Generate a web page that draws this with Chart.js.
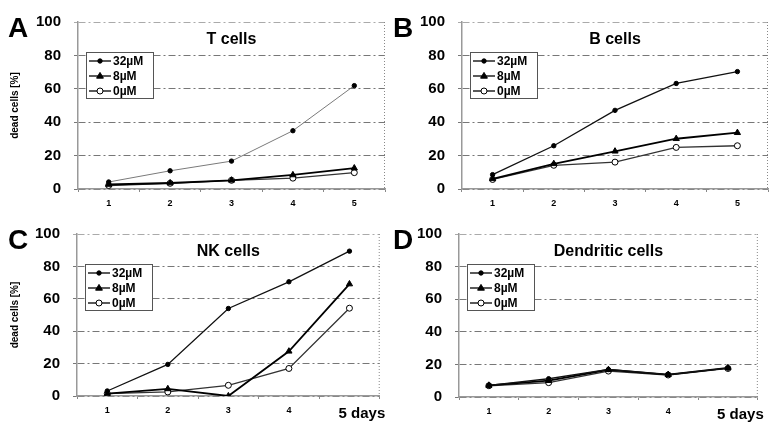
<!DOCTYPE html>
<html>
<head>
<meta charset="utf-8">
<script src="https://cdn.jsdelivr.net/npm/chart.js@4.4.0/dist/chart.umd.min.js"></script>
<style>
  html, body { margin: 0; padding: 0; background: #fff; }
  #wrap { position: relative; width: 770px; height: 424px; overflow: hidden; }
  canvas { position: absolute; }
</style>
</head>
<body>
<div id="wrap">
  <canvas id="pA" width="386" height="212" style="left:0;top:0"></canvas>
  <canvas id="pB" width="385" height="212" style="left:385px;top:0"></canvas>
  <canvas id="pC" width="392" height="212" style="left:0;top:212px"></canvas>
  <canvas id="pD" width="385" height="212" style="left:385px;top:212px"></canvas>
</div>
<script>
// values (% dead cells per day)
const days = ["1", "2", "3", "4", "5"];
const lastDayLabel = "5 days";
const doses = ["32µM", "8µM", "0µM"];
const yTicks = [0, 20, 40, 60, 80, 100];

const tCells32 = [4.2, 10.9, 16.7, 34.9, 61.9];
const tCells8 = [2.7, 3.6, 5.2, 8.4, 12.5];
const tCells0 = [2.1, 3.4, 5.2, 6.5, 9.8];

const bCells32 = [8.6, 25.9, 47.1, 63.2, 70.3];
const bCells8 = [6.1, 15.1, 22.6, 30.1, 33.7];
const bCells0 = [5.7, 14.2, 16.1, 24.9, 25.9];

const nkCells32 = [3.1, 19.5, 54, 70.5, 89.4];
const nkCells8 = [1.5, 4.4, 0, 27.6, 69.1];
const nkCells0 = [1.5, 2.5, 6.6, 17, 54.2];

const dcCells32 = [7.1, 11.2, 16.9, 13.7, 17.7];
const dcCells8 = [7.1, 10, 16.7, 13.7, 17.9];
const dcCells0 = [6.9, 8.8, 15.9, 13.5, 17.5];

const FONT = "'Liberation Sans', Arial, Helvetica, sans-serif";

const panels = [
  { id: "pA", letter: "A", title: "T cells", series: [tCells32, tCells8, tCells0],
    left: 78, top: 15, bottom: 189, right: 385, yTitle: true, withDays: false, color32: "#7a7a7a" },
  { id: "pB", letter: "B", title: "B cells", series: [bCells32, bCells8, bCells0],
    left: 77, top: 15, bottom: 189, right: 383, yTitle: false, withDays: false, color32: "#111" },
  { id: "pC", letter: "C", title: "NK cells", series: [nkCells32, nkCells8, nkCells0],
    left: 77, top: 12, bottom: 184, right: 385, yTitle: true, withDays: true, color32: "#111" },
  { id: "pD", letter: "D", title: "Dendritic cells", series: [dcCells32, dcCells8, dcCells0],
    left: 74, top: 12, bottom: 185, right: 383, yTitle: false, withDays: true, color32: "#111" },
];

const markerStyles = [
  { pointStyle: "circle", radius: 2.2, fill: "#000" },
  { pointStyle: "triangle", radius: 3.6, fill: "#000" },
  { pointStyle: "circle", radius: 3, fill: "#fff" },
];

function drawMarker(ctx, m, x, y) {
  ctx.save();
  ctx.fillStyle = m.fill;
  ctx.strokeStyle = "#000";
  ctx.lineWidth = 1;
  ctx.setLineDash([]);
  ctx.beginPath();
  if (m.pointStyle === "triangle") {
    const r = m.radius;
    ctx.moveTo(x, y - r);
    ctx.lineTo(x + r * 0.95, y + r * 0.6);
    ctx.lineTo(x - r * 0.95, y + r * 0.6);
    ctx.closePath();
  } else {
    ctx.arc(x, y, m.radius, 0, Math.PI * 2);
  }
  ctx.fill();
  ctx.stroke();
  ctx.restore();
}

// frame, panel letter, title and legend box drawn inside the plot
const panelDecor = {
  id: "panelDecor",
  afterDraw(chart, args, opts) {
    const { ctx, chartArea: a } = chart;
    ctx.save();
    // dotted right border
    ctx.strokeStyle = "#888";
    ctx.lineWidth = 1;
    ctx.setLineDash([1, 2]);
    ctx.beginPath();
    ctx.moveTo(a.right - 0.5, a.top);
    ctx.lineTo(a.right - 0.5, a.bottom);
    ctx.stroke();
    ctx.setLineDash([]);

    // panel letter
    ctx.fillStyle = "#000";
    ctx.font = "bold 28px " + FONT;
    ctx.textAlign = "left";
    ctx.textBaseline = "alphabetic";
    ctx.fillText(opts.letter, 8, a.top + 15);

    // title
    ctx.font = "bold 16px " + FONT;
    ctx.textAlign = "center";
    ctx.textBaseline = "middle";
    ctx.fillText(opts.title, (a.left + a.right) / 2, a.top + 18);

    // legend
    const bx = a.left + 8, by = a.top + 30, bw = 67, bh = 46;
    ctx.fillStyle = "#fff";
    ctx.fillRect(bx, by, bw, bh);
    ctx.strokeStyle = "#555";
    ctx.lineWidth = 1;
    ctx.strokeRect(bx + 0.5, by + 0.5, bw, bh);
    chart.data.datasets.forEach((ds, i) => {
      const y = by + 9 + i * 15;
      ctx.strokeStyle = "#000";
      ctx.lineWidth = 1.3;
      ctx.beginPath();
      ctx.moveTo(bx + 3, y);
      ctx.lineTo(bx + 25, y);
      ctx.stroke();
      drawMarker(ctx, markerStyles[i], bx + 14, y);
      ctx.fillStyle = "#000";
      ctx.font = "bold 12px " + FONT;
      ctx.textAlign = "left";
      ctx.textBaseline = "middle";
      ctx.fillText(ds.label, bx + 27, y + 1);
    });
    ctx.restore();
  },
};

panels.forEach((p) => {
  const canvas = document.getElementById(p.id);
  const lineColors = [p.color32, "#000", "#333"];
  const lineWidths = [p.letter === "A" ? 1 : 1.3, 1.8, 1.3];

  new Chart(canvas, {
    type: "line",
    data: {
      labels: days,
      datasets: p.series.map((vals, i) => ({
        label: doses[i],
        data: vals,
        borderColor: lineColors[i],
        borderWidth: lineWidths[i],
        tension: 0,
        pointStyle: markerStyles[i].pointStyle,
        pointRadius: markerStyles[i].radius,
        pointBackgroundColor: markerStyles[i].fill,
        pointBorderColor: "#000",
        pointBorderWidth: 1,
      })),
    },
    options: {
      responsive: false,
      animation: false,
      devicePixelRatio: 1,
      layout: {
        autoPadding: false,
        padding: { top: p.top, right: canvas.width - p.right, left: 0, bottom: 0 },
      },
      plugins: {
        legend: { display: false },
        tooltip: { enabled: false },
        panelDecor: { letter: p.letter, title: p.title },
      },
      scales: {
        x: {
          offset: true,
          grid: { offset: true, drawOnChartArea: false, tickLength: 3, color: "#888" },
          border: { color: "#999", width: 1.5 },
          ticks: {
            color: "#000",
            padding: 6,
            maxRotation: 0,
            autoSkip: false,
            callback: (v, i) => (p.withDays && i === days.length - 1 ? "      " + lastDayLabel : days[i]),
            font: (ctx) => (p.withDays && ctx.index === days.length - 1
              ? { family: FONT, size: 15, weight: "bold" }
              : { family: FONT, size: 9, weight: "bold" }),
          },
          afterFit: (s) => { s.height = canvas.height - p.bottom; },
        },
        y: {
          min: 0,
          max: 100,
          afterBuildTicks: (s) => { s.ticks = yTicks.map((v) => ({ value: v })); },
          grid: {
            color: (ctx) => (ctx.tick && ctx.tick.value === 100 ? "#aaa" : "#777"),
            tickLength: 4,
            lineWidth: 1,
          },
          border: { color: "#999", width: 1.5, dash: [7, 3, 2, 3] },
          ticks: {
            color: "#000",
            padding: 13,
            font: { family: FONT, size: 15, weight: "bold" },
          },
          title: {
            display: p.yTitle,
            text: "dead cells [%]",
            color: "#000",
            padding: 9,
            font: { family: FONT, size: 10, weight: "bold" },
          },
          afterFit: (s) => { s.width = p.left; },
        },
      },
    },
    plugins: [panelDecor],
  });
});
</script>
</body>
</html>
